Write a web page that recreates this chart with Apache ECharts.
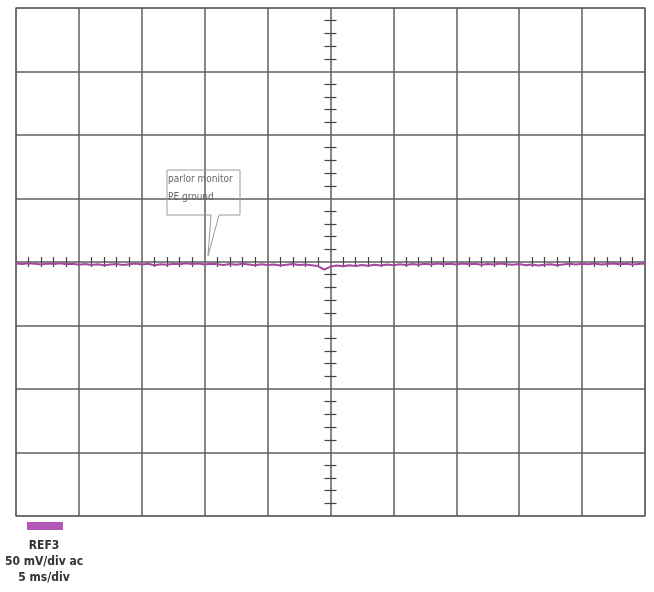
<!DOCTYPE html>
<html>
<head>
<meta charset="utf-8">
<script src="https://cdn.jsdelivr.net/npm/echarts@6/dist/echarts.min.js"></script>
<style>
  html, body { margin: 0; padding: 0; background: #fff; }
  #chart { width: 654px; height: 592px; }
</style>
</head>
<body>
<div id="chart"></div>
<script>
// scope screen: 10 div x 5 ms, 8 div x 50 mV
const timeMin = -25;
const timeMax = 25;
const timeDiv = 5;
const voltMin = -200;
const voltMax = 200;
const voltDiv = 50;

// REF3 trace, one sample every 0.5 ms starting at -25.5 ms (mV)
const traceStart = -25.5;
const traceStep = 0.5;
const traceValues = [
  -0.8, -1.2, -1.6, -1.0, -1.4, -2.0, -1.2, -1.6, -1.0, -1.8,
  -1.4, -2.2, -1.6, -2.4, -1.8, -2.6, -2.0, -1.6, -2.4, -1.8,
  -1.2, -2.0, -1.4, -2.6, -1.8, -2.2, -1.4, -1.8, -1.0, -1.6,
  -1.2, -2.0, -1.4, -1.8, -2.4, -1.6, -2.2, -1.4, -2.0, -2.6,
  -1.8, -2.4, -2.0, -2.8, -2.2, -1.6, -2.4, -2.0, -2.6, -3.2,
  -6.0, -3.6, -2.8, -3.4, -2.6, -3.2, -2.4, -3.0, -2.2, -2.8,
  -2.0, -2.6, -1.8, -2.4, -1.6, -2.2, -1.4, -2.0, -1.2, -1.8,
  -1.4, -2.0, -1.2, -1.8, -1.4, -2.2, -1.6, -2.0, -1.2, -1.8,
  -2.2, -1.6, -2.6, -2.0, -2.8, -2.2, -1.8, -2.6, -2.0, -1.4,
  -2.0, -1.4, -1.8, -1.2, -2.0, -1.6, -1.2, -1.8, -1.4, -2.0,
  -1.6, -1.2
];

const legendLines = ["REF3", "50 mV/div ac", "5 ms/div"];
const noteLines = ["parlor monitor", "PE ground"];

const gridColor = "#5e5e5e";
const traceColor = "#a3479f";
const narrowFont = "'Liberation Sans Narrow', 'DejaVu Sans Condensed', sans-serif";

const traceData = traceValues.map((v, i) => [traceStart + i * traceStep, v]);

const chart = echarts.init(document.getElementById("chart"));

// one axis of each pair draws the grid, the other only the crossing ticks
const centerTicks = (position, len) => ({
  position: position,
  axisLine: { show: false, onZero: true, onZeroAxisIndex: 0 },
  axisTick: { show: false },
  minorTick: {
    show: true,
    splitNumber: 5,
    length: len,
    lineStyle: { color: "#444", width: 1.2 },
  },
  axisLabel: { show: false },
  splitLine: { show: false },
});

chart.setOption({
  animation: false,
  backgroundColor: "#fff",
  grid: {
    left: 16,
    top: 8,
    width: 629,
    height: 508,
    show: true,
    borderColor: "#8a8a8a",
    borderWidth: 1.5,
  },
  xAxis: [
    Object.assign(centerTicks("bottom", 5), {
      type: "value",
      min: timeMin,
      max: timeMax,
      interval: timeDiv,
      splitLine: { show: true, lineStyle: { color: gridColor, width: 1.5 } },
    }),
    Object.assign(centerTicks("top", 5), {
      type: "value",
      min: timeMin,
      max: timeMax,
      interval: timeDiv,
    }),
  ],
  yAxis: [
    Object.assign(centerTicks("left", 6), {
      type: "value",
      min: voltMin,
      max: voltMax,
      interval: voltDiv,
      splitLine: { show: true, lineStyle: { color: gridColor, width: 1.5 } },
    }),
    Object.assign(centerTicks("right", 6), {
      type: "value",
      min: voltMin,
      max: voltMax,
      interval: voltDiv,
    }),
  ],
  series: [
    {
      name: "REF3",
      type: "line",
      data: traceData,
      clip: false,
      symbol: "none",
      lineStyle: { color: traceColor, width: 2 },
      z: 10,
    },
  ],
  graphic: [
    // callout
    {
      type: "polyline",
      shape: {
        points: [[211, 215], [167, 215], [167, 170], [240, 170], [240, 215], [219, 215], [208, 256], [211, 215]],
      },
      style: { stroke: "#9a9a9a", fill: null, lineWidth: 1 },
      z: 20,
    },
    ...noteLines.map((t, i) => ({
      type: "text",
      left: 168,
      top: 174 + i * 18,
      style: { text: t, fill: "#666", font: "10px " + narrowFont },
      z: 21,
    })),
    // legend
    {
      type: "rect",
      shape: { x: 27, y: 522, width: 36, height: 8 },
      style: { fill: "#b455b8" },
    },
    ...legendLines.map((t, i) => ({
      type: "text",
      x: 44,
      y: 546 + i * 16,
      style: {
        text: t,
        fill: "#333",
        font: "bold 12px " + narrowFont,
        align: "center",
        verticalAlign: "middle",
      },
    })),
  ],
});
</script>
</body>
</html>
